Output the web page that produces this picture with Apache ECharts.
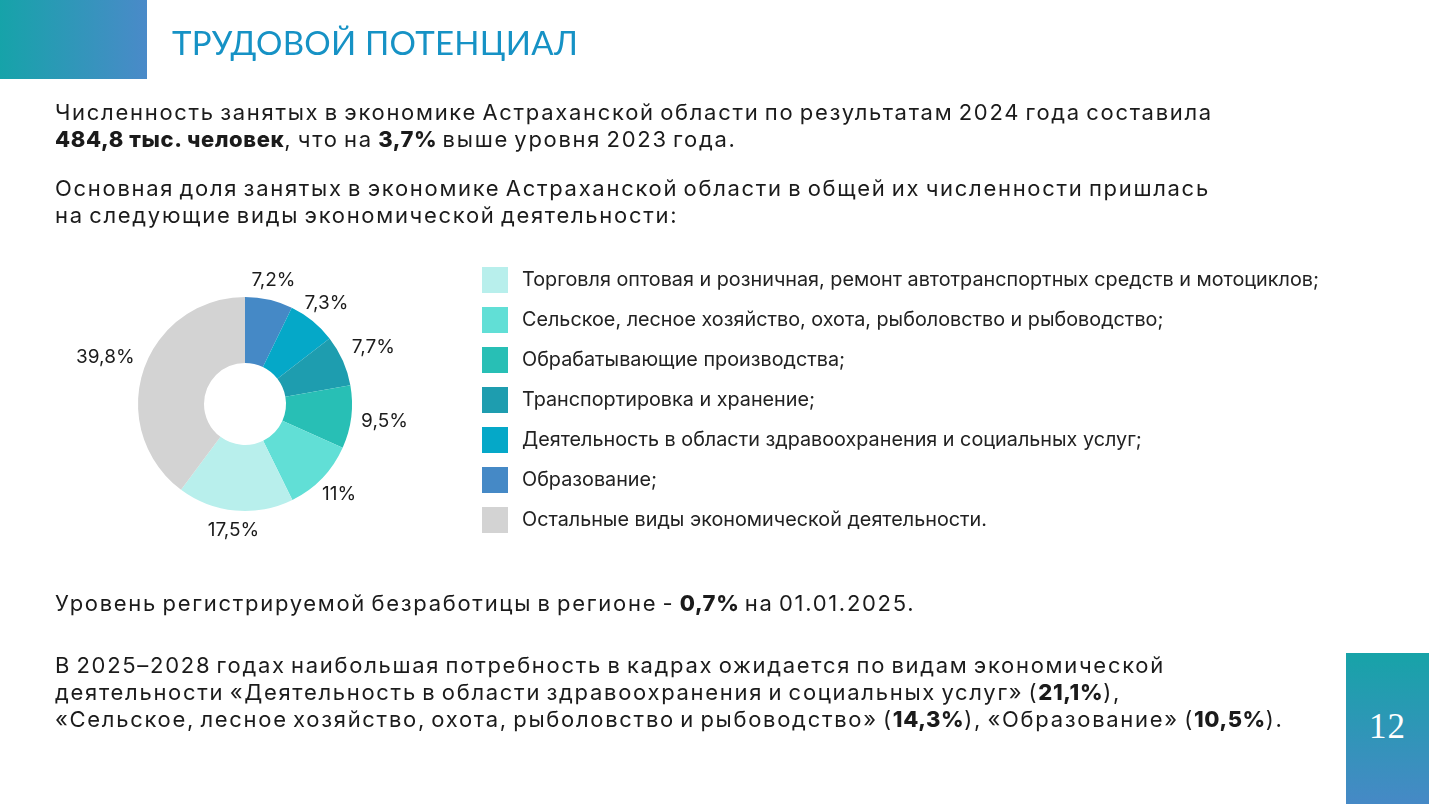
<!DOCTYPE html>
<html lang="ru">
<head>
<meta charset="utf-8">
<title>Трудовой потенциал</title>
<script src="https://cdn.jsdelivr.net/npm/echarts@6/dist/echarts.min.js"></script>
<style>
  html, body { margin: 0; padding: 0; background: #fff; }
  body { width: 1429px; height: 804px; position: relative; overflow: hidden; font-family: Inter, "Noto Sans", sans-serif; color: #1b1b1b; }
  #chart { position: absolute; left: 0; top: 0; width: 1429px; height: 804px; }
  .bar { position: absolute; left: 0; top: 0; width: 147px; height: 79px; background: linear-gradient(90deg, #16a3a9, #4a8ac9); }
  .title { position: absolute; left: 172px; top: 22px; font-family: "Lato", "Noto Sans", sans-serif; font-size: 33px; line-height: 40px; color: #1692c5; letter-spacing: 0.25px; }
  .txt { position: absolute; left: 55px; font-size: 22px; line-height: 27px; white-space: nowrap; letter-spacing: 1.7px; word-spacing: -2.5px; }
  .txt b { font-weight: 800; letter-spacing: 0.6px; word-spacing: 0; }
  .page { position: absolute; left: 1346px; top: 653px; width: 83px; height: 151px; background: linear-gradient(180deg, #17a3a8, #4689c6); }
  .page span { position: absolute; left: 0; right: 0; top: 54px; text-align: center; font-family: "Liberation Serif", "DejaVu Serif", serif; font-size: 35px; color: #fff; letter-spacing: 1px; }
</style>
</head>
<body>
<div id="chart"></div>
<div class="bar"></div>
<div class="title">ТРУДОВОЙ ПОТЕНЦИАЛ</div>
<div class="txt" style="top:99px">Численность занятых в экономике Астраханской области по результатам 2024 года составила<br><b>484,8 тыс. человек</b>, что на <b>3,7%</b> выше уровня 2023 года.</div>
<div class="txt" style="top:175px">Основная доля занятых в экономике Астраханской области в общей их численности пришлась<br>на следующие виды экономической деятельности:</div>
<div class="txt" style="top:590px">Уровень регистрируемой безработицы в регионе - <b>0,7%</b> на 01.01.2025.</div>
<div class="txt" style="top:652px">В 2025–2028 годах наибольшая потребность в кадрах ожидается по видам экономической<br>деятельности «Деятельность в области здравоохранения и социальных услуг» (<b>21,1%</b>),<br>«Сельское, лесное хозяйство, охота, рыболовство и рыбоводство» (<b>14,3%</b>), «Образование» (<b>10,5%</b>).</div>
<div class="page"><span>12</span></div>
<script>
// legend order
const categories = [
  'Торговля оптовая и розничная, ремонт автотранспортных средств и мотоциклов;',
  'Сельское, лесное хозяйство, охота, рыболовство и рыбоводство;',
  'Обрабатывающие производства;',
  'Транспортировка и хранение;',
  'Деятельность в области здравоохранения и социальных услуг;',
  'Образование;',
  'Остальные виды экономической деятельности.'
];
const shares = [17.5, 11, 9.5, 7.7, 7.3, 7.2, 39.8];
const sliceColors = ['#b8efec', '#61dfd6', '#28bfb5', '#1e9daf', '#05a8c8', '#4589c6', '#d3d3d3'];
// clockwise from the top
const pieOrder = [5, 4, 3, 2, 1, 0, 6];

const pieCenter = [245, 404];
const outerR = 107;
const innerR = 41;
const labelGap = 10;

const chart = echarts.init(document.getElementById('chart'));

// push each label out so its box sits just past the ring
function placeLabel(params) {
  const r = params.labelRect;
  const dx = r.x + r.width / 2 - pieCenter[0];
  const dy = r.y + r.height / 2 - pieCenter[1];
  const len = Math.sqrt(dx * dx + dy * dy) || 1;
  const ux = dx / len;
  const uy = dy / len;
  const tx = Math.abs(ux) > 1e-6 ? (r.width / 2) / Math.abs(ux) : Infinity;
  const ty = Math.abs(uy) > 1e-6 ? (r.height / 2) / Math.abs(uy) : Infinity;
  const d = outerR + labelGap + Math.min(tx, ty);
  return { x: pieCenter[0] + ux * d, y: pieCenter[1] + uy * d, align: 'center', verticalAlign: 'middle' };
}

chart.setOption({
  animation: false,
  legend: {
    data: categories,
    orient: 'vertical',
    left: 482,
    top: 267,
    padding: 0,
    icon: 'rect',
    itemWidth: 26,
    itemHeight: 26,
    itemGap: 14,
    selectedMode: false,
    textStyle: { fontFamily: 'Inter', fontSize: 19.8, color: '#222', padding: [0, 0, 0, 9] }
  },
  series: [{
    type: 'pie',
    center: pieCenter,
    radius: [innerR, outerR],
    startAngle: 90,
    clockwise: true,
    silent: true,
    label: {
      show: true,
      position: 'inside',
      fontFamily: 'Inter',
      fontSize: 19,
      color: '#1b1b1b',
      formatter: p => String(p.value).replace('.', ',') + '%'
    },
    labelLine: { show: false },
    labelLayout: placeLabel,
    data: pieOrder.map(i => ({ name: categories[i], value: shares[i], itemStyle: { color: sliceColors[i] } }))
  }]
});
</script>
</body>
</html>
